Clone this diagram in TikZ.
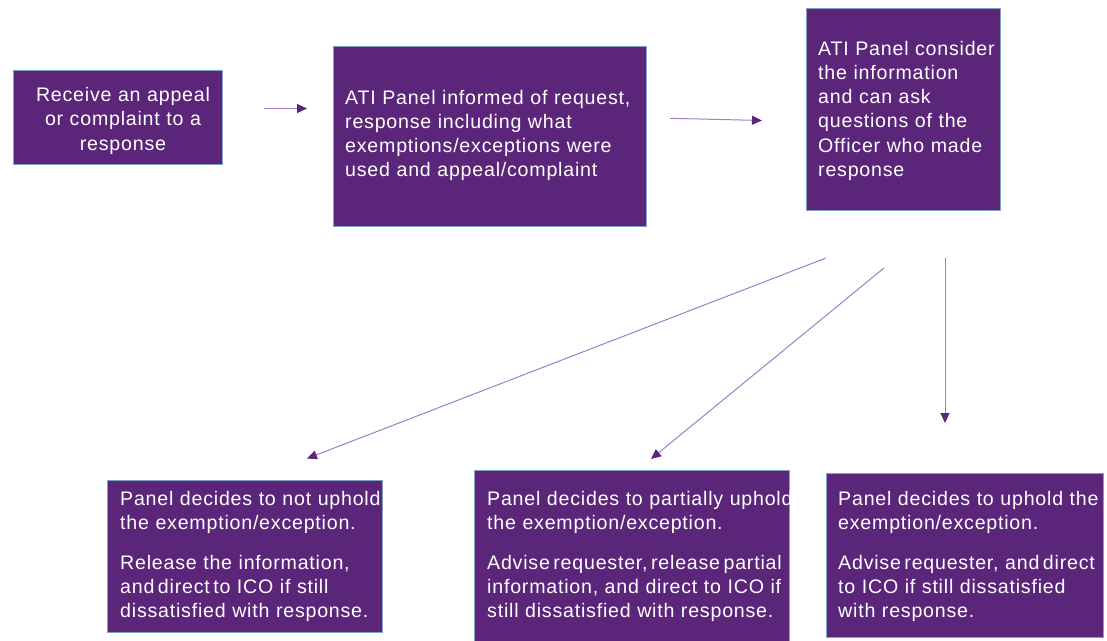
\documentclass[tikz,border=0pt]{standalone}
\usepackage{fontspec}
\setmainfont{Liberation Sans}[LetterSpace=4]
\usetikzlibrary{arrows.meta}
\definecolor{boxpurple}{RGB}{91,38,122}
\definecolor{boxedge}{RGB}{130,160,195}
\definecolor{arrline}{RGB}{160,125,200}
\newcommand{\tsp}{\hspace{3.5pt}}
\begin{document}
\begin{tikzpicture}[x=1pt,y=-1pt,
  box/.style={draw=boxedge,line width=1pt,fill=boxpurple,inner sep=0pt,outer sep=0pt},
  txt/.style={text=white,inner sep=0pt,anchor=base west,align=left,text width=400pt,
    font=\fontsize{19.6}{24.3}\selectfont},
  conn/.style={draw=arrline,line width=1pt,
    -{Triangle[length=10pt,width=9pt,color=boxpurple]}}]
\useasboundingbox (0,0) rectangle (1107,640);
% boxes
\node[box,minimum width=209pt,minimum height=94pt]  (b1) at (117.5,117) {};
\node[box,minimum width=313pt,minimum height=180pt] (b2) at (489.5,136) {};
\node[box,minimum width=194pt,minimum height=202pt] (b3) at (903,109) {};
\node[box,minimum width=275pt,minimum height=152pt] (b4) at (244.5,556) {};
\node[box,minimum width=315pt,minimum height=171pt] (b5) at (631.5,555.5) {};
\node[box,minimum width=277pt,minimum height=164pt] (b6) at (964.5,555) {};
% texts
\node[txt,anchor=base,align=center,text width=209pt] (t1) at (123,101.5)
  {Receive an appeal\\or complaint to a\\response};
\node[txt] (t2) at (345,104)
  {ATI Panel informed of request,\\response including what\\exemptions/exceptions were\\used and appeal/complaint};
\node[txt] (t3) at (818,55)
  {ATI Panel consider\\the information\\and can ask\\questions of the\\Officer who made\\response};
\begin{scope}
\clip (b4.north west) rectangle (b4.south east);
\node[txt] (t4) at (120,505)
  {Panel decides to not uphold\\the exemption/exception.\\[15.5pt]Release the information,\\and\tsp direct\tsp to ICO if still\\dissatisfied with response.};
\end{scope}
\begin{scope}
\clip (b5.north west) rectangle (b5.south east);
\node[txt] (t5) at (487,505)
  {Panel decides to partially uphold\\the exemption/exception.\\[15.5pt]Advise\tsp requester,\tsp release\tsp partial\\information, and direct to ICO if\\still dissatisfied with response.};
\end{scope}
\begin{scope}
\clip (b6.north west) rectangle (b6.south east);
\node[txt] (t6) at (838,505)
  {Panel decides to uphold the\\exemption/exception.\\[15.5pt]Advise\tsp requester, and\tsp direct\\to ICO if still dissatisfied\\with response.};
\end{scope}
% connector end points
\coordinate (a1s) at (264,108.5);
\coordinate (a1e) at (307,108.5);
\coordinate (a2s) at (670,118.3);
\coordinate (a2e) at (762,120.5);
\coordinate (a3s) at (826,258);
\coordinate (a3e) at (307,458.5);
\coordinate (a4s) at (884,268);
\coordinate (a4e) at (651,459);
\coordinate (a5s) at (945,258);
\coordinate (a5e) at (945,423);
\draw[conn] (a1s) -- (a1e);
\draw[conn] (a2s) -- (a2e);
\draw[conn] (a3s) -- (a3e);
\draw[conn] (a4s) -- (a4e);
\draw[conn] (a5s) -- (a5e);
\end{tikzpicture}
\end{document}
